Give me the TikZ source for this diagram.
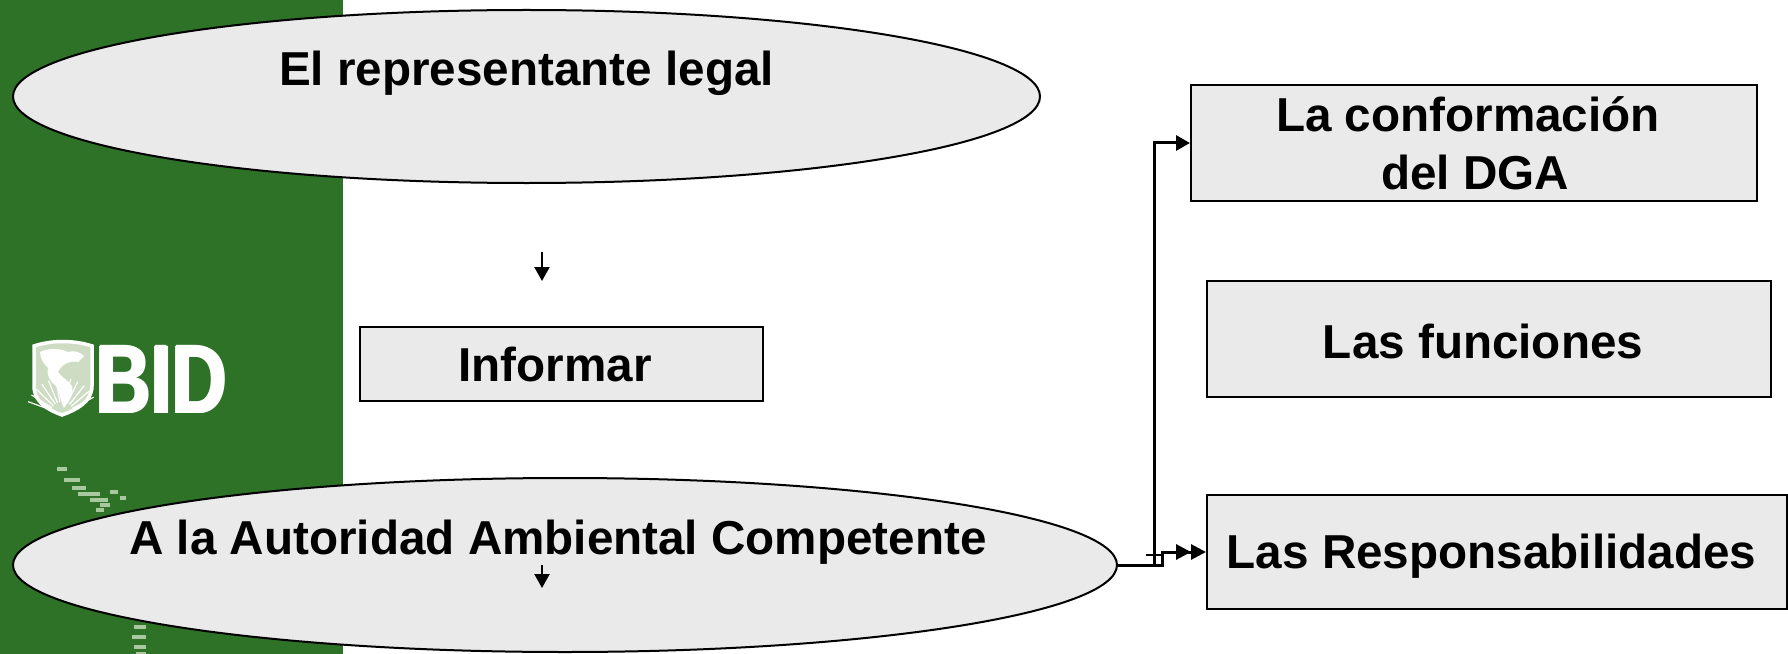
\documentclass[tikz,border=0pt]{standalone}
\usepackage{fontspec}
\setmainfont{Liberation Sans}
\usetikzlibrary{arrows.meta,shapes.geometric}
\definecolor{bidgreen}{RGB}{46,114,40}
\definecolor{boxgrey}{RGB}{234,234,234}
\definecolor{mapgreen}{RGB}{170,200,160}
\definecolor{shieldgrey}{RGB}{205,220,195}
\begin{document}
\begin{tikzpicture}[x=1bp,y=-1bp,
  oval/.style={ellipse, draw=black, line width=2bp, fill=boxgrey, inner sep=0pt},
  panel/.style={rectangle, draw=black, line width=2bp, fill=boxgrey, inner sep=0pt},
  txt/.style={font=\fontsize{47.8pt}{57.6pt}\selectfont\bfseries, inner sep=0pt, anchor=base},
  conn/.style={line width=3bp, -{Triangle[length=14bp,width=15bp]}},
  smallarrow/.style={line width=2.2bp, -{Triangle[length=14bp,width=15bp]}},
  mapbit/.style={fill=mapgreen},
  logotxt/.style={font=\fontsize{98pt}{98pt}\selectfont\bfseries, text=white, xscale=0.78, anchor=base west, inner sep=0pt}
]
\useasboundingbox (0,0) rectangle (1788,654);
\fill[white] (0,0) rectangle (1788,654);
% green band
\fill[bidgreen] (0,0) rectangle (343,654);
% shield
\path[fill=shieldgrey, draw=white, line width=3.5bp]
  (34,346) .. controls (52,340) and (74,340) .. (92,346) -- (92,386)
  .. controls (92,402) and (76,410) .. (62,415)
  .. controls (48,410) and (34,402) .. (34,386) -- cycle;
\fill[white] (40,352) .. controls (48,348) and (60,348) .. (68,352)
  .. controls (74,350) and (80,352) .. (84,356) -- (78,362)
  .. controls (70,360) and (62,364) .. (58,372)
  .. controls (62,378) and (68,380) .. (72,386)
  .. controls (74,394) and (68,402) .. (64,408)
  .. controls (60,400) and (60,392) .. (56,386)
  .. controls (50,382) and (46,374) .. (48,368)
  .. controls (44,364) and (40,358) .. (40,352) -- cycle;
\foreach \a in {200,212,...,340} {
  \draw[white, line width=1.2bp] (62,414) ++(\a:12) -- ++(\a:24);
}
\foreach \i/\dx/\dy in {1/-1.6/0, 2/-0.5/-0.9, 3/0.5/0.9, 4/1.6/0} {
  \node[logotxt] (bid\i) at (96+\dx,413+\dy) {BID};
}
% map fragments
\foreach \x/\y/\w in {57/467/10, 64/478/16, 72/486/14, 78/492/22, 90/498/18, 100/503/10, 110/490/8, 120/496/6, 96/508/8, 134/625/12, 132/635/14, 134/645/12, 136/652/10} {
  \fill[mapbit] (\x,\y) rectangle ++(\w,3.5);
}
% shapes
\node[oval, minimum width=1027bp, minimum height=173bp] (e1) at (526.5,96.5) {};
\node[oval, minimum width=1104bp, minimum height=174bp] (e2) at (565,565) {};
\node[panel, minimum width=403bp, minimum height=74bp] (inf) at (561.5,364) {};
\node[panel, minimum width=566bp, minimum height=116bp] (b1) at (1474,143) {};
\node[panel, minimum width=564bp, minimum height=116bp] (b2) at (1489,339) {};
\node[panel, minimum width=580bp, minimum height=114bp] (b3) at (1497,552) {};
% texts
\node[txt] (t1) at (526.5,85.5) {El representante legal};
\node[txt] (t2) at (555,381.6) {Informar};
\node[txt] (t3) at (558,554.7) {A la Autoridad Ambiental Competente};
\node[txt] (t4a) at (1468,131.4) {La conformación};
\node[txt] (t4b) at (1475,189) {del DGA};
\node[txt] (t5) at (1483,358) {Las funciones};
\node[txt] (t6) at (1491.5,568) {Las Responsabilidades};
% small arrows
\coordinate (a1s) at (542,252);
\coordinate (a1e) at (542,281);
\coordinate (a2s) at (542,565);
\coordinate (a2e) at (542,588);
\draw[smallarrow] (a1s) -- (a1e);
\draw[smallarrow] (a2s) -- (a2e);
% connectors
\coordinate (j1) at (1154,565);
\coordinate (j2) at (1162,565);
\coordinate (j3) at (1162,552);
\draw[conn] (e2.east) -- (j1) |- (b1.west);
\draw[line width=3bp, -{Triangle[length=15bp,width=15bp] Triangle[length=15bp,width=15bp]}] (e2.east) -- (j2) -- (j3) -- (b3.west);
\coordinate (k1) at (1146,555);
\coordinate (k2) at (1162,555);
\draw[line width=2.2bp] (k1) -- (k2);
\end{tikzpicture}
\end{document}
